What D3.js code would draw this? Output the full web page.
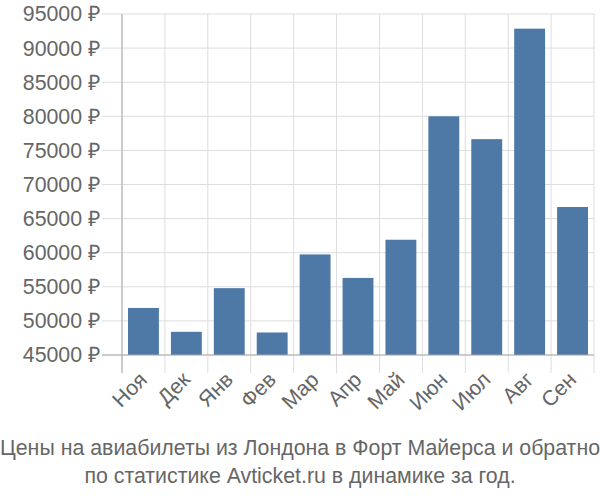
<!DOCTYPE html>
<html><head><meta charset="utf-8">
<script src="https://cdn.jsdelivr.net/npm/d3@7"></script>
<style>body{margin:0;background:#fff}svg{display:block}text{font-family:"Liberation Sans",Arial,sans-serif}</style>
</head><body>
<svg id="c" width="600" height="500"></svg>
<script>
const months = ["Ноя","Дек","Янв","Фев","Мар","Апр","Май","Июн","Июл","Авг","Сен"];
const prices = [51900, 48400, 54800, 48300, 59750, 56300, 61900, 80000, 76650, 92850, 66700];
const yTicks = [45000,50000,55000,60000,65000,70000,75000,80000,85000,90000,95000];
const titleLines = ["Цены на авиабилеты из Лондона в Форт Майерса и обратно","по статистике Avticket.ru в динамике за год."];

const FS = "21.33px";
const svg = d3.select("#c");
const m = {l:122, r:594, t:14, b:355};
const x = d3.scaleBand().domain(months).range([m.l, m.r]).paddingInner(0.28).paddingOuter(0.14);
const xg = d3.scaleBand().domain(months).range([m.l, m.r]);
const y = d3.scaleLinear().domain([45000, 95000]).range([m.b, m.t]);

// horizontal grid
svg.append("g").selectAll("line").data(yTicks).join("line")
  .attr("x1", 102).attr("x2", m.r).attr("y1", d=>y(d)).attr("y2", d=>y(d))
  .attr("stroke", "#ddd").attr("stroke-width", 1);
// vertical grid
const vx = months.map(d=>xg(d)).concat([m.r]);
svg.append("g").selectAll("line").data(vx).join("line")
  .attr("x1", d=>d).attr("x2", d=>d).attr("y1", m.t).attr("y2", m.b+18)
  .attr("stroke", "#ddd").attr("stroke-width", 1);

// bars
svg.append("g").selectAll("rect").data(prices).join("rect")
  .attr("x", (d,i)=>x(months[i])).attr("width", x.bandwidth())
  .attr("y", d=>y(d)).attr("height", d=>m.b - y(d))
  .attr("fill", "#4e79a7");

// axes lines
svg.append("line").attr("x1", m.l).attr("x2", m.l).attr("y1", m.t).attr("y2", m.b+18).attr("stroke","#aaa");
svg.append("line").attr("x1", 102).attr("x2", m.r).attr("y1", m.b).attr("y2", m.b).attr("stroke","#aaa");

// y labels
svg.append("g").selectAll("text").data(yTicks).join("text")
  .attr("x", 100).attr("y", d=>y(d)).attr("dy","0.35em").attr("text-anchor","end")
  .attr("font-size", FS).attr("fill","#666").text(d=>d+" ₽");

// x labels
svg.append("g").selectAll("text").data(months).join("text")
  .attr("transform", d=>`translate(${xg(d)+xg.bandwidth()/2+5},${381}) rotate(-45)`)
  .attr("text-anchor","end")
  .attr("font-size", FS).attr("fill","#666").text(d=>d);

// title
svg.append("g").selectAll("text").data(titleLines).join("text")
  .attr("x", 300).attr("y", (d,i)=>455+i*27.5).attr("text-anchor","middle")
  .attr("font-size", FS).attr("fill","#666").text(d=>d);
</script>
</body></html>
